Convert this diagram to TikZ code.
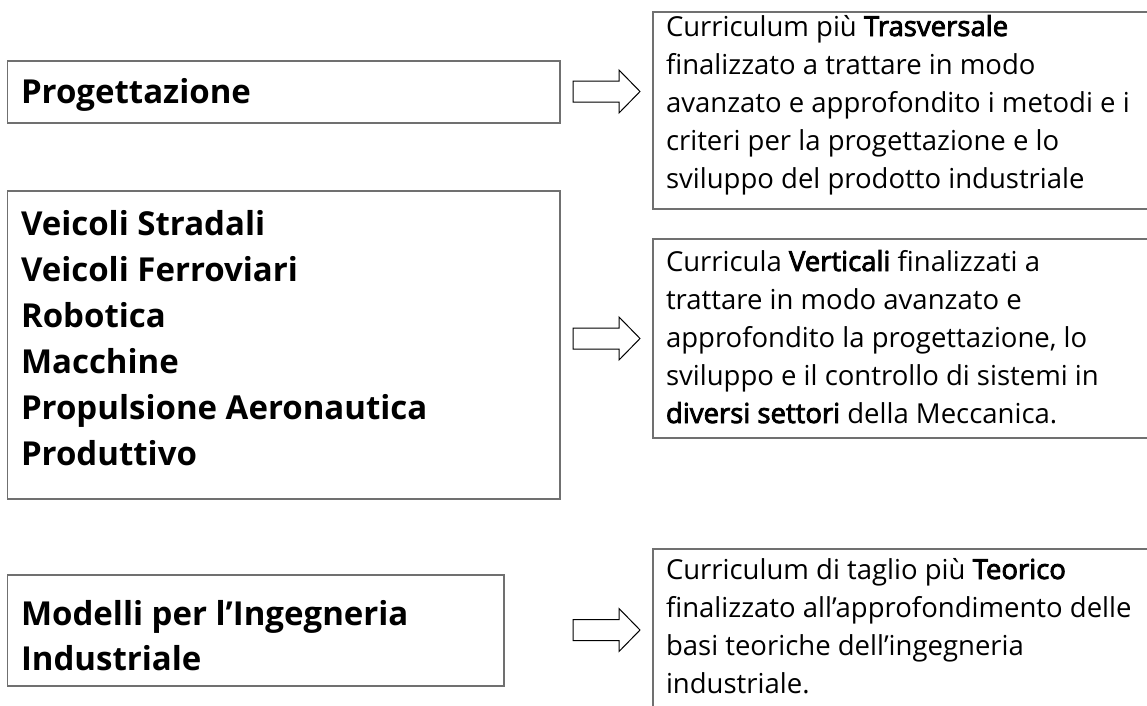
\documentclass[tikz,border=0pt]{standalone}
\usepackage{fontspec}
\setmainfont{Open Sans}[Ligatures=NoCommon]
\newfontfamily\semibf{Open Sans}[Ligatures=NoCommon,FakeBold=3]
\definecolor{boxgray}{RGB}{112,112,112}
\newcommand{\lefttext}{\fontsize{33}{46}\selectfont\bfseries}
\newcommand{\righttext}{\fontsize{27.5}{38}\selectfont}
\newcommand{\hl}[1]{{\semibf #1}}
\begin{document}
\begin{tikzpicture}[x=1pt,y=-1pt,
  box/.style={draw=boxgray,line width=1.3pt,inner sep=0pt,outer sep=0pt,anchor=north west},
  txt/.style={anchor=base west,inner sep=0pt,outer sep=0pt},
  blockarrow/.style={draw=black,line width=1pt,fill=white,line join=miter}]
\useasboundingbox (0,0) rectangle (1147,705);
\clip (0,0) rectangle (1147,705);
% left boxes
\node[box,minimum width=552.5pt,minimum height=62pt] (b1) at (7.5,61) {};
\node[box,minimum width=552.5pt,minimum height=308pt] (b2) at (7.5,191) {};
\node[box,minimum width=496.5pt,minimum height=111pt] (b3) at (7.5,575) {};
% right boxes
\node[box,minimum width=520pt,minimum height=197pt] (r1) at (653,12) {};
\node[box,minimum width=520pt,minimum height=199pt] (r2) at (653,239) {};
\node[box,minimum width=520pt,minimum height=190pt] (r3) at (653,549) {};
% left texts
\node[txt] (t1) at (21,103) {\parbox[t]{530pt}{\lefttext Progettazione}};
\node[txt] (t2) at (21,235) {\parbox[t]{530pt}{\lefttext Veicoli Stradali\\Veicoli Ferroviari\\Robotica\\Macchine\\Propulsione Aeronautica\\Produttivo}};
\node[txt] (t3) at (21,625) {\parbox[t]{480pt}{\fontsize{33}{45}\selectfont\bfseries Modelli per l’Ingegneria\\Industriale}};
% right texts
\node[txt] (s1) at (666,36) {\parbox[t]{490pt}{\righttext Curriculum più \hl{Trasversale}\\finalizzato a trattare in modo\\avanzato e approfondito i metodi e i\\criteri per la progettazione e lo\\sviluppo del prodotto industriale}};
\node[txt] (s2) at (666,271) {\parbox[t]{490pt}{\righttext Curricula \hl{Verticali} finalizzati a\\trattare in modo avanzato e\\approfondito la progettazione, lo\\sviluppo e il controllo di sistemi in\\\hl{diversi settori} della Meccanica.}};
\node[txt] (s3) at (666,579) {\parbox[t]{490pt}{\righttext Curriculum di taglio più \hl{Teorico}\\finalizzato all’approfondimento delle\\basi teoriche dell’ingegneria\\industriale.}};
% block arrows
\coordinate (a1) at (573,91.5);
\coordinate (a2) at (573,338.5);
\coordinate (a3) at (573,630);
\foreach \a in {a1,a2,a3}{
  \draw[blockarrow] (\a) ++(0,-10.5) -- ++(46,0) -- ++(0,-11) -- ++(21,21.5) -- ++(-21,21.5) -- ++(0,-11) -- ++(-46,0) -- cycle;
}
\end{tikzpicture}
\end{document}
